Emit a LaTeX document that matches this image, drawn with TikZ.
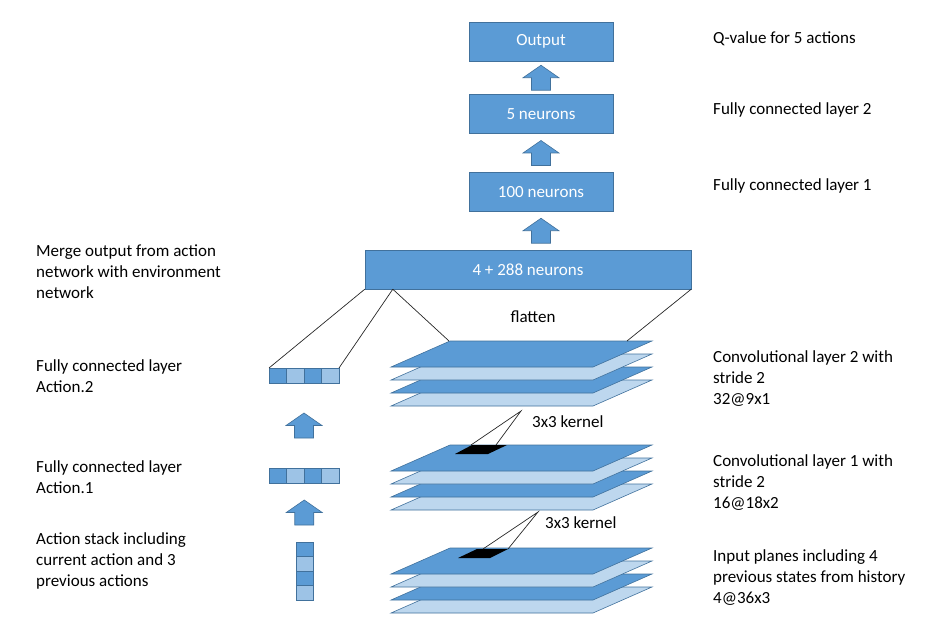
\documentclass[tikz,border=0pt]{standalone}
\usepackage{fontspec}
\setmainfont{Carlito}
\usetikzlibrary{positioning,calc}

\definecolor{blueoff}{RGB}{91,155,213}
\definecolor{bluedark}{RGB}{65,113,156}
\definecolor{bluemid}{RGB}{157,195,230}
\definecolor{bluelight}{RGB}{189,215,238}

\tikzset{
  nnbox/.style={rectangle, draw=bluedark, fill=blueoff, text=white, minimum width=144pt, minimum height=39pt, inner sep=0pt, font=\fontsize{17}{20}\selectfont},
  acell/.style={rectangle, draw=bluedark, inner sep=0pt, outer sep=0pt, minimum width=17.5pt, minimum height=15pt},
  plane/.style={draw=bluedark, line width=0.6pt},
  lbl/.style={anchor=west, align=left, inner sep=0pt, font=\fontsize{17}{21}\selectfont},
  wire/.style={draw=black!85, line width=0.7pt},
  blockup/.pic={\draw[draw=bluedark, fill=blueoff, line width=0.6pt] (-9.5,12.5) -- (-9.5,0) -- (-18,0) -- (0,-12.5) -- (18,0) -- (9.5,0) -- (9.5,12.5) -- cycle;}
}

\newcommand{\planestack}[1]{\foreach \k/\c in {3/bluelight,2/blueoff,1/bluelight,0/blueoff}{\draw[plane, fill=\c] (391,#1+13*\k+26) -- ++(202,0) -- ++(59,-26) -- ++(-202,0) -- cycle;}}

\begin{document}
\begin{tikzpicture}[x=1pt, y=-1pt, on grid]
	\useasboundingbox (0,0) rectangle (938,623);
	\node[nnbox, minimum width=326pt](merge) at (528,269.5) {4 + 288 neurons};
	\node[nnbox](fcone) [above=77.5pt of merge, xshift=13pt] {100 neurons};
	\node[nnbox](fctwo) [above=78pt of fcone] {5 neurons};
	\node[nnbox](out) [above=72.5pt of fctwo] {Output};
	\pic at ($(out.south)!0.5!(fctwo.north)$) {blockup};
	\pic at ($(fctwo.south)!0.5!(fcone.north)$) {blockup};
	\pic at ($(fcone.south)!0.5!(merge.north -| fcone.south)$) {blockup};

	\foreach \i/\c in {1/blueoff,2/bluemid,3/blueoff,4/bluemid}{
		\node[acell, fill=\c](atwo\i) at (260.25+17.5*\i,375.5) {};
		\node[acell, fill=\c](aone\i) at (260.25+17.5*\i,475.5) {};
		\node[acell, fill=\c, minimum width=17pt, minimum height=14.5pt](astk\i) at (304.5,534.75+14.5*\i) {};
	}
	\pic at ($(atwo2.south east)!0.5!(aone2.north east)$) {blockup};
	\pic at ($(aone2.south east)!0.5!(astk1.north)$) {blockup};

	\planestack{341}
	\planestack{445}
	\planestack{548}

	\coordinate (ctwotl) at (449,341);
	\coordinate (ctwotap) at (627,341);
	\coordinate (mtap) at ($(merge.south west)+(28,0)$);
	\draw[wire] (merge.south west) -- (atwo1.north west);
	\draw[wire] (mtap) -- (atwo4.north east);
	\draw[wire] (mtap) -- (ctwotl);
	\draw[wire] (merge.south east) -- (ctwotap);

	\fill (455,454) -- (488,454) -- (507,445) -- (472,445) -- cycle;
	\coordinate (kone) at (521,411);
	\coordinate (konea) at (471,445);
	\coordinate (koneb) at (496,445);
	\draw[wire] (konea) -- (kone) -- (koneb);
	\fill (458,558) -- (490,558) -- (508,549) -- (477,549) -- cycle;
	\coordinate (ktwo) at (538,512);
	\coordinate (ktwoa) at (483,549);
	\coordinate (ktwob) at (508,549);
	\draw[wire] (ktwoa) -- (ktwo) -- (ktwob);

	\node[lbl](qval) at (713,39) {Q-value for 5 actions};
	\node[lbl](fctwolbl) at (713,110) {Fully connected layer 2};
	\node[lbl](fconelbl) at (713,186) {Fully connected layer 1};
	\node[lbl](ctwolbl) at (713,378.5) {Convolutional layer 2 with\\stride 2\\32@9x1};
	\node[lbl](conelbl) at (713,482.5) {Convolutional layer 1 with\\stride 2\\16@18x2};
	\node[lbl](inlbl) at (713,577.5) {Input planes including 4\\previous states from history\\4@36x3};
	\node[lbl](mergelbl) at (36,271.5) {Merge output from action\\network with environment\\network};
	\node[lbl](atwolbl) at (36,376.5) {Fully connected layer\\Action.2};
	\node[lbl](aonelbl) at (36,477) {Fully connected layer\\Action.1};
	\node[lbl](astklbl) at (36,561) {Action stack including\\current action and 3\\previous actions};
	\node[lbl, anchor=center](flat) at (533,317) {flatten};
	\node[lbl](kerone) at (532,422) {3x3 kernel};
	\node[lbl](kertwo) at (545,523) {3x3 kernel};
\end{tikzpicture}
\end{document}
